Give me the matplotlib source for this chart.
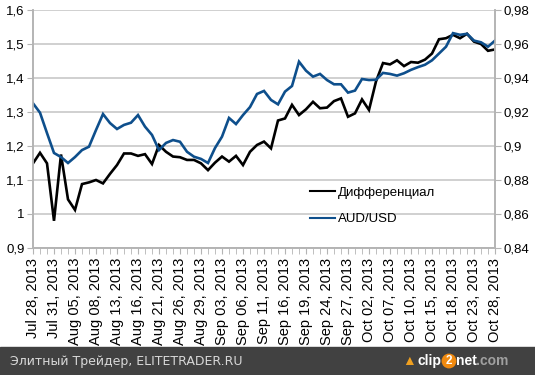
import matplotlib
matplotlib.use('Agg')
import matplotlib.pyplot as plt
from matplotlib.lines import Line2D
from matplotlib.patches import Rectangle
from matplotlib.ticker import FuncFormatter, MultipleLocator, FixedLocator

# Data: one point per trading day, Jul 28 .. Oct 28 2013
diff = [1.149, 1.180, 1.149, 0.980, 1.175, 1.043, 1.012, 1.088, 1.093, 1.100,
        1.090, 1.118, 1.144, 1.178, 1.178, 1.171, 1.176, 1.147, 1.203, 1.183,
        1.169, 1.167, 1.159, 1.159, 1.149, 1.129, 1.151, 1.169, 1.154, 1.171,
        1.144, 1.183, 1.203, 1.213, 1.193, 1.275, 1.281, 1.321, 1.291, 1.308,
        1.330, 1.311, 1.313, 1.332, 1.340, 1.286, 1.296, 1.337, 1.306, 1.390,
        1.444, 1.440, 1.452, 1.435, 1.447, 1.445, 1.454, 1.472, 1.514, 1.517,
        1.527, 1.517, 1.530, 1.507, 1.500, 1.480, 1.484]

audusd = [0.9251, 0.9196, 0.9076, 0.8959, 0.8935, 0.8900, 0.8935, 0.8976, 0.8996, 0.9094,
          0.9188, 0.9135, 0.9100, 0.9124, 0.9137, 0.9182, 0.9114, 0.9065, 0.8976, 0.9018,
          0.9035, 0.9025, 0.8966, 0.8937, 0.8924, 0.8900, 0.8988, 0.9055, 0.9165, 0.9129,
          0.9182, 0.9229, 0.9306, 0.9324, 0.9271, 0.9245, 0.9320, 0.9353, 0.9496, 0.9443,
          0.9408, 0.9424, 0.9388, 0.9363, 0.9363, 0.9314, 0.9326, 0.9394, 0.9388, 0.9390,
          0.9430, 0.9424, 0.9414, 0.9428, 0.9448, 0.9464, 0.9478, 0.9504, 0.9544, 0.9584,
          0.9664, 0.9654, 0.9660, 0.9620, 0.9610, 0.9584, 0.9620]

date_labels = ['Jul 28, 2013', 'Jul 31, 2013', 'Aug 05, 2013', 'Aug 08, 2013',
               'Aug 13, 2013', 'Aug 16, 2013', 'Aug 21, 2013', 'Aug 26, 2013',
               'Aug 29, 2013', 'Sep 03, 2013', 'Sep 06, 2013', 'Sep 11, 2013',
               'Sep 16, 2013', 'Sep 19, 2013', 'Sep 24, 2013', 'Sep 27, 2013',
               'Oct 02, 2013', 'Oct 07, 2013', 'Oct 10, 2013', 'Oct 15, 2013',
               'Oct 18, 2013', 'Oct 23, 2013', 'Oct 28, 2013']

plt.rcParams['font.family'] = ['Liberation Sans', 'DejaVu Sans']

W, H = 535, 375
fig = plt.figure(figsize=(W / 100, H / 100), dpi=100)
ax = fig.add_axes([33 / W, 1 - 248 / H, (495 - 33) / W, (248 - 10) / H])
ax2 = ax.twinx()

x = list(range(len(diff)))
grey = '#b4b4b4'

ax.plot(x, diff, color='black', lw=1.9, solid_joinstyle='miter')
ax2.plot(x, audusd, color='#0e4f8c', lw=1.9, solid_joinstyle='miter')

comma = FuncFormatter(lambda v, p: ('%g' % round(v, 3)).replace('.', ','))

ax.set_xlim(0, len(diff) - 1)
ax.set_ylim(0.9, 1.6)
ax.yaxis.set_major_locator(MultipleLocator(0.1))
ax.yaxis.set_major_formatter(comma)
ax2.set_ylim(0.84, 0.98)
ax2.yaxis.set_major_locator(MultipleLocator(0.02))
ax2.yaxis.set_major_formatter(comma)

ax.set_xticks(x[::3])
ax.set_xticklabels(date_labels, rotation=90, fontsize=10.5)
ax.xaxis.set_minor_locator(FixedLocator(x))
ax.tick_params(axis='x', which='both', length=4, color=grey, pad=3)
ax.tick_params(axis='y', length=4, color=grey, labelsize=9.5, pad=2)
ax2.tick_params(axis='y', length=4, color=grey, labelsize=9.5, pad=2)

ax.grid(axis='y', color='#c8c8c8', lw=1.2)
ax.set_axisbelow(True)
for a in (ax, ax2):
    a.spines['top'].set_visible(False)
    for s in ('left', 'right', 'bottom'):
        a.spines[s].set_color(grey)
        a.spines[s].set_linewidth(1.2)

handles = [Line2D([], [], color='black', lw=1.5), Line2D([], [], color='#0e4f8c', lw=1.5)]
fig.legend(handles, ['Дифференциал', 'AUD/USD'], loc='center left',
           bbox_to_anchor=(310 / W, 1 - 206 / H), frameon=False, fontsize=9.5,
           handlelength=1.9, handletextpad=0.25, labelspacing=1.1,
           borderpad=0, borderaxespad=0)

# footer band
fig.patches.append(Rectangle((0, 0), 1, 28 / H, transform=fig.transFigure,
                             color='#414141', zorder=0))
fig.text(10 / W, 14 / H, 'Элитный Трейдер, ELITETRADER.RU', color='#d8d8d8',
         fontsize=9, family='DejaVu Sans', va='center')

# clip2net logo
fy = 14 / H
fig.text(402 / W, fy, '\u25b2', color='#f0a020', fontsize=10, va='center')
fig.text(417 / W, fy, 'clip', color='white', fontsize=10, weight='bold', va='center')
fig.text(449 / W, fy, '2', color='white', fontsize=8.5, weight='bold', va='center',
         ha='center', bbox=dict(boxstyle='circle,pad=0.12', fc='#f08a10', ec='none'))
fig.text(456 / W, fy, 'net', color='white', fontsize=10, weight='bold', va='center')
fig.text(476 / W, fy, '.com', color='#a0a0a0', fontsize=10, weight='bold', va='center')

fig.savefig('out.png', dpi=100)
